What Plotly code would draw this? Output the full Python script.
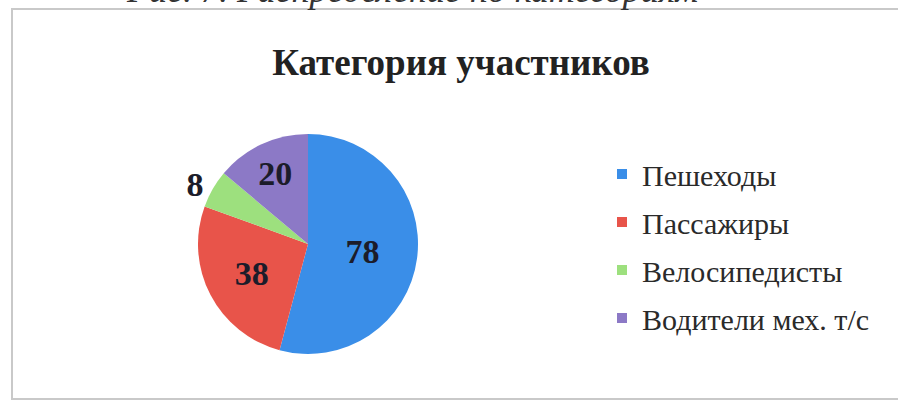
import plotly.graph_objects as go

categories = ["Пешеходы", "Пассажиры", "Велосипедисты", "Водители мех. т/с"]
values = [78, 38, 8, 20]
colors = ["#3A8EE8", "#E8544A", "#9DE07E", "#8C79C6"]
title_text = "Категория участников"
caption_text = "Рис. 7. Распределение по категориям"

W, H = 898, 402
CX, CY, R = 308, 244, 110
fig = go.Figure()

fig.add_trace(go.Pie(
    labels=categories, values=values, sort=False, direction="clockwise", rotation=0,
    marker=dict(colors=colors, line=dict(width=0)),
    texttemplate="%{value}", textinfo="value",
    textposition=["inside", "inside", "outside", "inside"],
    insidetextorientation="horizontal",
    textfont=dict(family="Liberation Serif", size=34, color="#1c1c2a", weight="bold"),
    outsidetextfont=dict(family="Liberation Serif", size=34, color="#1c1c2a", weight="bold"),
    domain=dict(x=[(CX - R) / W, (CX + R) / W], y=[(H - CY - R) / H, (H - CY + R) / H]),
    showlegend=False, hoverinfo="label+value",
))

for i, (c, col) in enumerate(zip(categories, colors)):
    fig.add_trace(go.Scatter(
        x=[None], y=[None], mode="markers", name=c, legendgroup=f"g{i}",
        marker=dict(symbol="square", size=10, color=col),
    ))

fig.add_shape(type="rect", xref="paper", yref="paper",
              x0=12 / W, x1=1.05, y0=3 / H, y1=(H - 9) / H,
              line=dict(color="#c9c9c9", width=2), fillcolor="rgba(0,0,0,0)", layer="below")

fig.add_annotation(text=caption_text, xref="paper", yref="paper", x=412 / W, y=1 + 10 / H,
                   xanchor="center", yanchor="middle", showarrow=False,
                   font=dict(family="Liberation Serif", size=36, color="#333", style="italic"))

fig.update_layout(
    width=W, height=H, margin=dict(l=0, r=0, t=0, b=0),
    paper_bgcolor="white", plot_bgcolor="white",
    title=dict(text=title_text, x=461 / W, xanchor="center", y=1 - 62 / H, yanchor="middle",
               font=dict(family="Liberation Serif", size=37, color="#222", weight="bold")),
    xaxis=dict(visible=False), yaxis=dict(visible=False),
    legend=dict(x=602 / W, y=1 - 148 / H, xanchor="left", yanchor="top",
                font=dict(family="Liberation Serif", size=30, color="#2a2a2a"),
                tracegroupgap=6, itemwidth=30, bgcolor="rgba(0,0,0,0)"),
)

fig.write_html("out.html", config={"displayModeBar": False},
               post_script="document.body.style.margin='0';document.body.style.overflow='hidden';")
